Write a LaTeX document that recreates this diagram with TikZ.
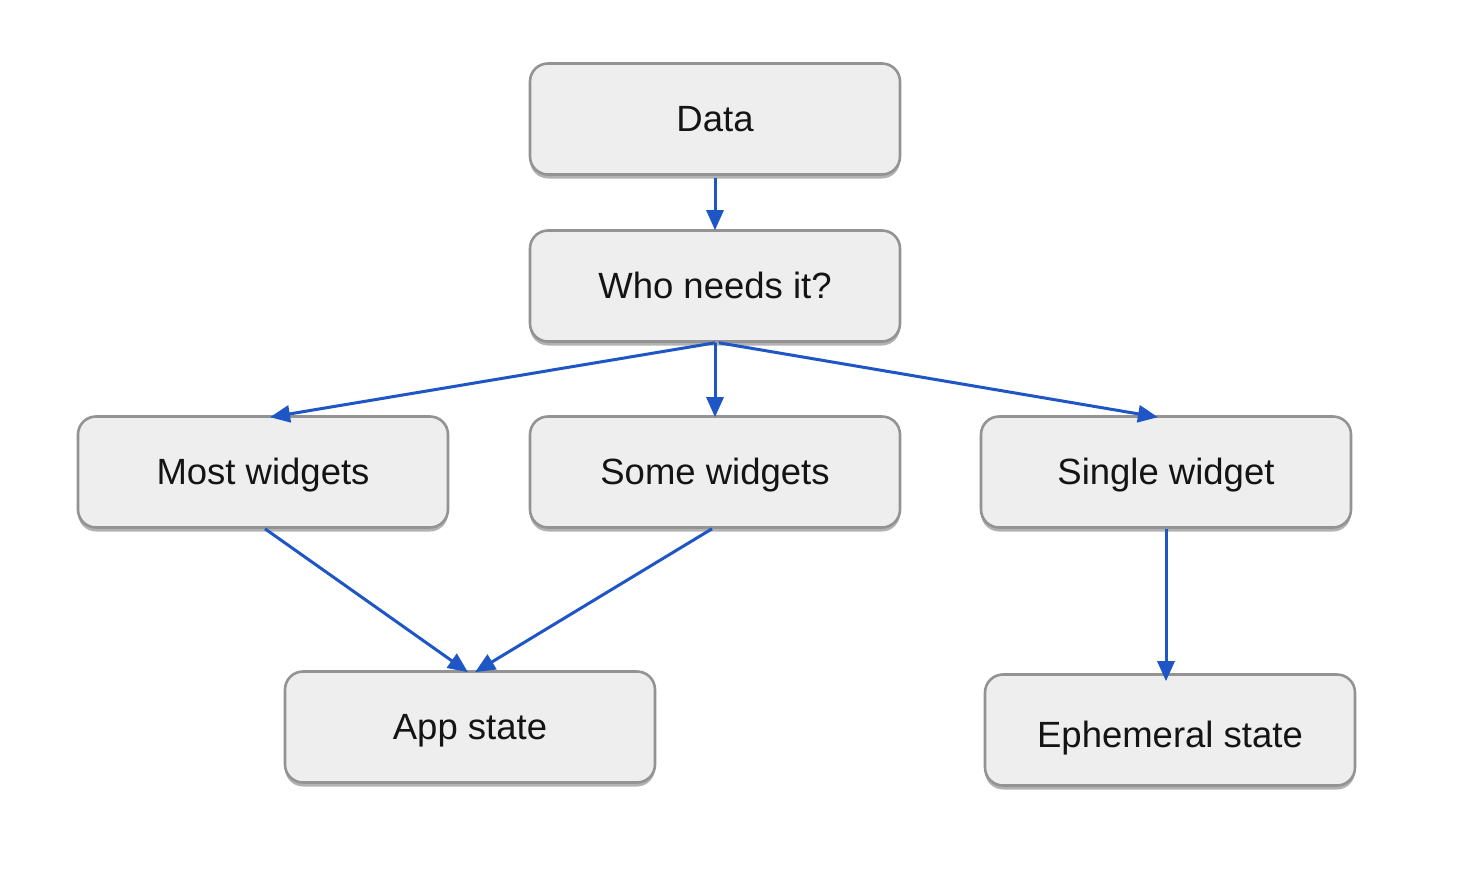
\documentclass[tikz,border=0pt]{standalone}
\usepackage{fontspec}
\setmainfont{Liberation Sans}
\usetikzlibrary{arrows.meta,shadows}
\definecolor{boxfill}{HTML}{EEEEEE}
\definecolor{boxline}{HTML}{939393}
\definecolor{arrblue}{HTML}{1E56C6}
\tikzset{
  box/.style={draw=boxline, fill=boxfill, line width=2.6pt, rounded corners=18pt,
    minimum width=370pt, minimum height=111pt, inner sep=0pt,
    text height=24pt, text depth=0pt,
    font=\fontsize{36.5}{42}\selectfont, text=black!92,
    drop shadow={shadow xshift=0pt, shadow yshift=-4pt, fill=black, opacity=0.3}},
  arr/.style={draw=arrblue, line width=3pt, -{Triangle[length=20pt,width=17pt]}, shorten >=0pt}
}
\begin{document}
\begin{tikzpicture}[x=1pt,y=-1pt]
\useasboundingbox[fill=white] (0,0) rectangle (1460,868);
\node[box] (data) at (715,119) {Data};
\node[box] (who) at (715,286) {Who needs it?};
\node[box] (most) at (263,472) {Most widgets};
\node[box] (some) at (715,472) {Some widgets};
\node[box] (single) at (1166,472) {Single widget};
\node[box] (app) at (470,727) {App state};
\node[box, text height=34pt] (eph) at (1170,730) {Ephemeral state};
\draw[arr] (data.south) ++(0,2) -- ([yshift=-1pt]who.north);
\draw[arr] (who.south) -- ([xshift=7pt,yshift=-2pt]most.north);
\draw[arr] (who.south) -- ([yshift=-2pt]some.north);
\draw[arr] ([xshift=4pt]who.south) -- ([xshift=-8pt,yshift=-2pt]single.north);
\draw[arr] ([xshift=2pt]most.south) -- ([xshift=-2pt,yshift=-2pt]app.north);
\draw[arr] ([xshift=-3pt]some.south) -- ([xshift=5pt,yshift=-2pt]app.north);
\draw[arr] (single.south) -- ([xshift=-4pt,yshift=-8pt]eph.north);
\end{tikzpicture}
\end{document}
